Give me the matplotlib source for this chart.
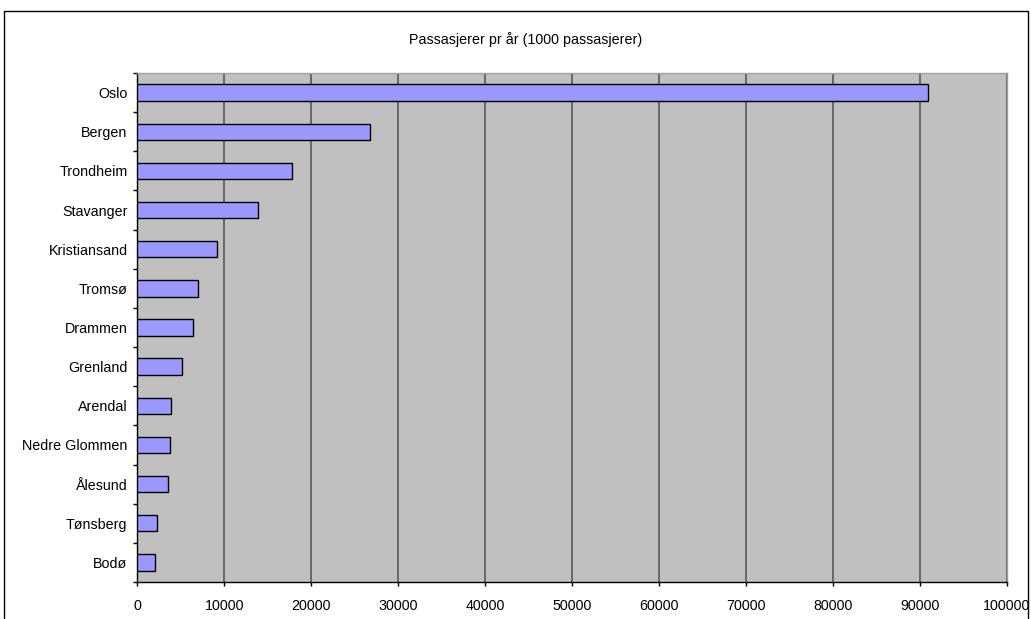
import matplotlib
matplotlib.use("Agg")
import matplotlib.pyplot as plt
from matplotlib.patches import Rectangle
import numpy as np

plt.rcParams['font.family'] = ['Liberation Sans', 'DejaVu Sans']

cities = ["Oslo", "Bergen", "Trondheim", "Stavanger", "Kristiansand", "Tromsø",
          "Drammen", "Grenland", "Arendal", "Nedre Glommen", "Ålesund",
          "Tønsberg", "Bodø"]
passengers = [91000, 26800, 17800, 13900, 9200, 6950, 6400, 5100, 3850,
              3750, 3550, 2300, 2050]
title = "Passasjerer pr år (1000 passasjerer)"
xticks = list(range(0, 100001, 10000))

fs = 10.3

fig = plt.figure(figsize=(10.31, 6.19), dpi=100)
fig.patch.set_facecolor("white")
fig.patches.append(Rectangle((4 / 1031, -0.05), (1028 - 4) / 1031, 1.05 - 11 / 619,
                             transform=fig.transFigure, fill=False,
                             edgecolor="black", linewidth=1.0))

ax = fig.add_axes([137.3 / 1031, 1 - 582 / 619, (1006.5 - 137.3) / 1031, (582 - 73) / 619])
ax.set_facecolor("#C0C0C0")

n = len(cities)
y = np.arange(n)
ax.barh(y, passengers, height=0.42, color="#9999FF", edgecolor="black",
        linewidth=1.0, zorder=3)

ax.set_ylim(n - 0.5, -0.5)
ax.set_xlim(0, 100000)
ax.set_xticks(xticks)
ax.set_xticklabels([str(t) for t in xticks])
ax.set_yticks(y)
ax.set_yticklabels(cities)
ax.set_yticks(np.arange(-0.5, n, 1.0), minor=True)

ax.xaxis.grid(True, color="#606060", linewidth=1.3, zorder=1)
ax.set_axisbelow(True)

for s in ["top", "right"]:
    ax.spines[s].set_color("#A0A0A0")
    ax.spines[s].set_linewidth(1.0)
for s in ["left", "bottom"]:
    ax.spines[s].set_color("black")
    ax.spines[s].set_linewidth(1.0)

ax.tick_params(axis="x", direction="out", length=3, width=1.0, pad=9,
               labelsize=fs, colors="black")
ax.tick_params(axis="y", which="major", length=0, pad=7, labelsize=fs)
ax.tick_params(axis="y", which="minor", direction="out", length=3, width=1.0)

fig.text(526 / 1031, 1 - 40 / 619, title, ha="center", va="center", fontsize=fs)

fig.savefig("out.png", dpi=100)
